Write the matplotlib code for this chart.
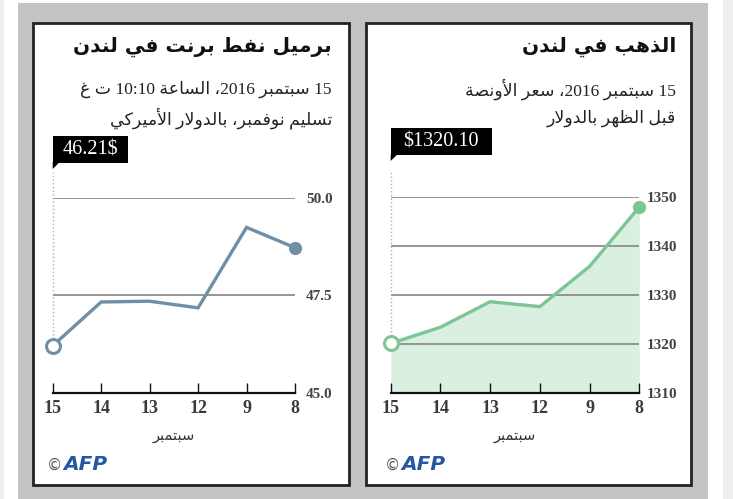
import matplotlib
matplotlib.use('Agg')
import matplotlib.pyplot as plt
from matplotlib.patches import Rectangle, Polygon

days = ['15', '14', '13', '12', '9', '8']
brent = [46.21, 47.33, 47.35, 47.18, 49.24, 48.72]
gold = [1320.10, 1323.4, 1328.6, 1327.6, 1335.8, 1347.9]
brent_ticks = [45.0, 47.5, 50.0]
gold_ticks = [1310, 1320, 1330, 1340, 1350]
brent_label = '46.21$'
gold_label = '$1320.10'

brent_title = 'برميل نفط برنت في لندن'
brent_sub1 = '15 سبتمبر 2016، الساعة 10:10 ت غ'
brent_sub2 = 'تسليم نوفمبر، بالدولار الأميركي'
gold_title = 'الذهب في لندن'
gold_sub1 = '15 سبتمبر 2016، سعر الأونصة'
gold_sub2 = 'قبل الظهر بالدولار'
month = 'سبتمبر'

# --- minimal arabic shaping + rtl ordering (matplotlib does neither) ---
DUAL = {'ئ': 0xFE89, 'ب': 0xFE8F, 'ت': 0xFE95, 'ث': 0xFE99, 'ج': 0xFE9D,
        'ح': 0xFEA1, 'خ': 0xFEA5, 'س': 0xFEB1, 'ش': 0xFEB5, 'ص': 0xFEB9,
        'ض': 0xFEBD, 'ط': 0xFEC1, 'ظ': 0xFEC5, 'ع': 0xFEC9, 'غ': 0xFECD,
        'ف': 0xFED1, 'ق': 0xFED5, 'ك': 0xFED9, 'ل': 0xFEDD, 'م': 0xFEE1,
        'ن': 0xFEE5, 'ه': 0xFEE9, 'ي': 0xFEF1}
RIGHT = {'آ': 0xFE81, 'أ': 0xFE83, 'ؤ': 0xFE85, 'إ': 0xFE87, 'ا': 0xFE8D,
         'ة': 0xFE93, 'د': 0xFEA9, 'ذ': 0xFEAB, 'ر': 0xFEAD, 'ز': 0xFEAF,
         'و': 0xFEED, 'ى': 0xFEEF}
LAMALEF = {'آ': 0xFEF5, 'أ': 0xFEF7, 'إ': 0xFEF9, 'ا': 0xFEFB}
LTR = set('0123456789:.')


def kind(t):
    if t[0] == 'LA':
        return 'R'
    if t[1] in DUAL:
        return 'D'
    if t[1] in RIGHT:
        return 'R'
    return 'N'


def shape(w):
    toks = []
    i = 0
    while i < len(w):
        if w[i] == 'ل' and i + 1 < len(w) and w[i + 1] in LAMALEF:
            toks.append(('LA', LAMALEF[w[i + 1]]))
            i += 2
        else:
            toks.append(('C', w[i]))
            i += 1
    out = []
    for k, t in enumerate(toks):
        kd = kind(t)
        if kd == 'N':
            out.append(t[1])
            continue
        prev = kind(toks[k - 1]) if k > 0 else 'N'
        nxt = kind(toks[k + 1]) if k + 1 < len(toks) else 'N'
        jp = prev == 'D'
        jn = kd == 'D' and nxt in ('D', 'R')
        if t[0] == 'LA':
            out.append(chr(t[1] + (1 if jp else 0)))
            continue
        base = DUAL.get(t[1], RIGHT.get(t[1]))
        off = 3 if (jp and jn) else 1 if jp else 2 if jn else 0
        out.append(chr(base + off))
    return ''.join(out)


def ar(s):
    s = shape(s)
    runs = []
    for c in s:
        isl = c in LTR
        if runs and runs[-1][0] == isl:
            runs[-1][1].append(c)
        else:
            runs.append((isl, [c]))
    vis = []
    for isl, cs in reversed(runs):
        vis.append(''.join(cs) if isl else ''.join(reversed(cs)))
    return ''.join(vis)


W, H = 733, 499
MIX = ['Liberation Serif', 'DejaVu Sans']
ARF = ['DejaVu Sans']


def fx(x):
    return x / W


def fy(y):
    return 1 - y / H


fig = plt.figure(figsize=(W / 100, H / 100), dpi=100)
fig.patch.set_facecolor('white')

# frame (behind the axes)
fig.add_artist(Rectangle((0, 0), fx(4), 1, transform=fig.transFigure, fc='#eeeeee', ec='none', zorder=-10))
fig.add_artist(Rectangle((fx(723), 0), fx(10), 1, transform=fig.transFigure, fc='#eeeeee', ec='none', zorder=-10))
fig.add_artist(Rectangle((fx(18), 0), fx(690), fy(3), transform=fig.transFigure, fc='#c3c3c3', ec='none', zorder=-10))
for x0, x1 in [(33, 349), (366, 691)]:
    fig.add_artist(Rectangle((fx(x0), fy(485)), fx(x1 - x0), (485 - 23) / H,
                             transform=fig.transFigure, fc='white', ec='#222222', lw=2, zorder=-9))


def panel(xl, xr, ytop, ybot, vals, ticks, color, fill, pad, title, sub1, sub2,
          tx, label, box_top, box_w):
    ax = fig.add_axes([fx(xl), fy(ybot), fx(xr - xl), (ybot - ytop) / H])
    ax.set_xlim(0, len(vals) - 1)
    ax.set_ylim(ticks[0], ticks[-1])
    ax.patch.set_alpha(0)
    for s in ['left', 'right', 'top']:
        ax.spines[s].set_visible(False)
    ax.spines['bottom'].set_color('#111111')
    ax.spines['bottom'].set_linewidth(1.6)
    ax.spines['bottom'].set_zorder(5)
    for t in ticks[1:]:
        ax.axhline(t, color='#8e8e8e', lw=1.3, zorder=1)
    x = list(range(len(vals)))
    if fill:
        ax.fill_between(x, ticks[0], vals, color=fill, lw=0, zorder=0)
    ax.plot(x, vals, color=color, lw=2.4, zorder=3, clip_on=False, solid_joinstyle='miter')
    ax.plot(x[0], vals[0], 'o', ms=10, mfc='white', mec=color, mew=2.2, zorder=4, clip_on=False)
    ax.plot(x[-1], vals[-1], 'o', ms=8.5, color=color, zorder=4, clip_on=False)
    ax.set_xticks(x)
    ax.set_xticklabels(days, family=MIX, fontsize=13, fontweight='bold', color='#3a3a3a')
    ax.tick_params(axis='x', direction='in', length=7, width=1, color='#111111', pad=5)
    ax.yaxis.tick_right()
    ax.set_yticks(ticks)
    ax.set_yticklabels(['%g' % t if isinstance(t, int) else '%.1f' % t for t in ticks],
                       family=MIX, fontsize=11, fontweight='bold', color='#444444')
    ax.tick_params(axis='y', length=0, pad=pad)
    ax.set_xlabel(ar(month), family=ARF, fontsize=10.5, color='#333333', labelpad=8)

    # dotted drop line and value flag
    ax.plot([0, 0], [vals[0], ticks[-1] + (ticks[-1] - ticks[0]) * 0.13],
            color='#b0b0b0', lw=1, ls=':', zorder=2, clip_on=False)
    fig.add_artist(Rectangle((fx(xl), fy(box_top + 27)), fx(box_w), 27 / H,
                             transform=fig.transFigure, fc='black', ec='none'))
    fig.add_artist(Polygon([(fx(xl), fy(box_top + 26)), (fx(xl + 7), fy(box_top + 26)),
                            (fx(xl), fy(box_top + 33))], closed=True,
                           transform=fig.transFigure, fc='black', ec='none'))
    fig.text(fx(xl + box_w / 2), fy(box_top + 14), label, family=MIX, fontsize=14.5,
             color='white', ha='center', va='center')

    fig.text(fx(tx), fy(47), ar(title), family=ARF, fontsize=14.5, fontweight='bold',
             color='#111111', ha='right', va='center')
    fig.text(fx(tx), fy(89), ar(sub1), family=MIX, fontsize=12.5, color='#222222',
             ha='right', va='center')
    fig.text(fx(tx), fy(118), ar(sub2), family=MIX, fontsize=12.5, color='#222222',
             ha='right', va='center')

    # AFP credit
    fig.text(fx(xl - 6), fy(465), '©', family=['DejaVu Sans'], fontsize=11,
             color='#555555', ha='left', va='center')
    fig.text(fx(xl + 11), fy(465), 'AFP', family=['DejaVu Sans'], fontsize=14.5,
             fontweight='bold', fontstyle='italic', color='#2456a6', ha='left', va='center')
    return ax


panel(52.7, 295, 197.7, 393, brent, brent_ticks, '#6f8fa6', None, 8,
      brent_title, brent_sub1, brent_sub2, 332, brent_label, 136, 75)
panel(390.7, 639.3, 196.7, 393, gold, gold_ticks, '#7cc596', '#d9efdf', 5,
      gold_title, gold_sub1, gold_sub2, 676, gold_label, 128, 101)

fig.savefig('out.png', dpi=100)
